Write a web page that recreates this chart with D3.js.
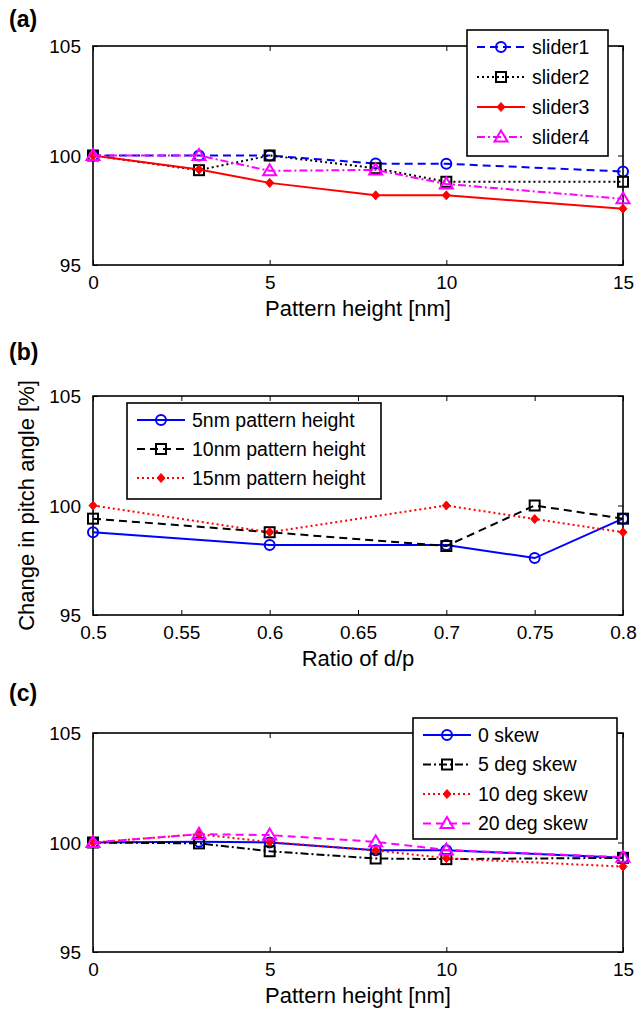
<!DOCTYPE html>
<html>
<head>
<meta charset="utf-8">
<script src="https://cdn.jsdelivr.net/npm/d3@7"></script>
<style>
  html, body { margin: 0; padding: 0; background: #fff; }
  svg { display: block; font-family: "Liberation Sans", Arial, Helvetica, sans-serif; }
</style>
</head>
<body>
<svg id="chart" width="644" height="1013"></svg>
<script>
// ---------- DATA ----------
// Panel (a)
const heightsA = [0, 3, 5, 8, 10, 15];
const slider1 = [100, 100, 100, 99.63, 99.62, 99.27];
const slider2 = [100, 99.33, 100, 99.42, 98.8, 98.8];
const slider3 = [100, 99.36, 98.75, 98.18, 98.18, 97.57];
const slider4 = [100, 100, 99.3, 99.34, 98.7, 98.02];
const namesA = ["slider1", "slider2", "slider3", "slider4"];

// Panel (b)
const ratiosB = [0.5, 0.6, 0.7, 0.75, 0.8];
const h5nm = [98.78, 98.2, 98.2, 97.6, 99.4];
const h10nm = [99.4, 98.78, 98.15, 100, 99.4];
const h15nm = [100, 98.78, 100, 99.38, 98.78];
const namesB = ["5nm pattern height", "10nm pattern height", "15nm pattern height"];

// Panel (c)
const heightsC = [0, 3, 5, 8, 10, 15];
const skew0 = [100, 100.03, 100, 99.65, 99.65, 99.3];
const skew5 = [100, 99.96, 99.6, 99.27, 99.24, 99.3];
const skew10 = [100, 100.38, 100.02, 99.64, 99.28, 98.9];
const skew20 = [100, 100.38, 100.34, 100.03, 99.66, 99.33];
const namesC = ["0 skew", "5 deg skew", "10 deg skew", "20 deg skew"];

// Ticks
const yTicks = [95, 100, 105];
const xTicksA = [0, 5, 10, 15];
const xTicksB = [0.5, 0.55, 0.6, 0.65, 0.7, 0.75, 0.8];
const xTicksC = [0, 5, 10, 15];
const xLabelA = "Pattern height [nm]";
const xLabelB = "Ratio of d/p";
const xLabelC = "Pattern height [nm]";
const yLabel = "Change in pitch angle [%]";

// ---------- STYLES ----------
const STY = {
  blueDash:   {color: "#0000ff", dash: "8,5", marker: "circle"},
  blueSolid:  {color: "#0000ff", dash: null, marker: "circle"},
  blackDot:   {color: "#000000", dash: "2,3", marker: "square"},
  blackDash:  {color: "#000000", dash: "8,5", marker: "square"},
  blackDashDot: {color: "#000000", dash: "8,3,2,3", marker: "square"},
  redSolid:   {color: "#ff0000", dash: null, marker: "diamond"},
  redDot:     {color: "#ff0000", dash: "2,3", marker: "diamond"},
  magDashDot: {color: "#ff00ff", dash: "8,3,2,3", marker: "triangle"},
  magDash:    {color: "#ff00ff", dash: "8,5", marker: "triangle"}
};

const panels = [
  {
    tag: "(a)", tagY: 27, top: 46, xs: heightsA, xDomain: [0, 15], xTicks: xTicksA, xLabel: xLabelA,
    series: [
      {name: namesA[0], y: slider1, s: STY.blueDash},
      {name: namesA[1], y: slider2, s: STY.blackDot},
      {name: namesA[2], y: slider3, s: STY.redSolid},
      {name: namesA[3], y: slider4, s: STY.magDashDot}
    ],
    legend: {x: 467, y: 30, w: 141, h: 126, rowY0: 47, rowDy: 30}
  },
  {
    tag: "(b)", tagY: 360, top: 396, xs: ratiosB, xDomain: [0.5, 0.8], xTicks: xTicksB, xLabel: xLabelB,
    series: [
      {name: namesB[0], y: h5nm, s: STY.blueSolid},
      {name: namesB[1], y: h10nm, s: STY.blackDash},
      {name: namesB[2], y: h15nm, s: STY.redDot}
    ],
    legend: {x: 127, y: 403, w: 254, h: 96, rowY0: 420, rowDy: 29},
    yLabel: yLabel
  },
  {
    tag: "(c)", tagY: 701, top: 733, xs: heightsC, xDomain: [0, 15], xTicks: xTicksC, xLabel: xLabelC,
    series: [
      {name: namesC[0], y: skew0, s: STY.blueSolid},
      {name: namesC[1], y: skew5, s: STY.blackDashDot},
      {name: namesC[2], y: skew10, s: STY.redDot},
      {name: namesC[3], y: skew20, s: STY.magDash}
    ],
    legend: {x: 413, y: 718, w: 204, h: 121, rowY0: 735, rowDy: 29.5}
  }
];

// ---------- DRAW ----------
const svg = d3.select("#chart");
const L = 93, R = 623, H = 219;
const FS_TICK = 19, FS_LABEL = 22, FS_LEG = 19.5, FS_TAG = 23;

function drawMarker(g, type, cx, cy, color) {
  if (type === "circle") {
    g.append("circle").attr("cx", cx).attr("cy", cy).attr("r", 5)
      .attr("fill", "none").attr("stroke", color).attr("stroke-width", 2);
  } else if (type === "square") {
    g.append("rect").attr("x", cx - 5).attr("y", cy - 5).attr("width", 10).attr("height", 10)
      .attr("fill", "none").attr("stroke", color).attr("stroke-width", 2);
  } else if (type === "diamond") {
    g.append("path").attr("d", `M${cx},${cy-4.5} L${cx+4},${cy} L${cx},${cy+4.5} L${cx-4},${cy} Z`)
      .attr("fill", color).attr("stroke", color).attr("stroke-width", 1);
  } else if (type === "triangle") {
    g.append("path").attr("d", `M${cx},${cy-6.5} L${cx+6.5},${cy+4.5} L${cx-6.5},${cy+4.5} Z`)
      .attr("fill", "none").attr("stroke", color).attr("stroke-width", 2).attr("stroke-linejoin", "miter");
  }
}

panels.forEach(p => {
  const g = svg.append("g");
  const x = d3.scaleLinear().domain(p.xDomain).range([L, R]);
  const y = d3.scaleLinear().domain([95, 105]).range([p.top + H, p.top]);
  const bottom = p.top + H;

  // panel tag
  g.append("text").attr("x", 9).attr("y", p.tagY)
    .attr("font-size", FS_TAG).attr("font-weight", "bold").text(p.tag);

  // axes with inward ticks (box style)
  const axB = d3.axisBottom(x).tickValues(p.xTicks).tickSizeInner(-5).tickSizeOuter(0).tickPadding(12)
    .tickFormat(d => d3.format("~g")(d));
  const axT = d3.axisTop(x).tickValues(p.xTicks).tickSizeInner(-5).tickSizeOuter(0).tickFormat("");
  const axL = d3.axisLeft(y).tickValues(yTicks).tickSizeInner(-5).tickSizeOuter(0).tickPadding(12);
  const axR = d3.axisRight(y).tickValues(yTicks).tickSizeInner(-5).tickSizeOuter(0).tickFormat("");

  const gb = g.append("g").attr("transform", `translate(0,${bottom})`).call(axB);
  const gt = g.append("g").attr("transform", `translate(0,${p.top})`).call(axT);
  const gl = g.append("g").attr("transform", `translate(${L},0)`).call(axL);
  const gr = g.append("g").attr("transform", `translate(${R},0)`).call(axR);
  [gb, gt, gl, gr].forEach(a => {
    a.select(".domain").remove();
    a.selectAll(".tick line").attr("stroke", "#000").attr("stroke-width", 1);
    a.selectAll("text").attr("font-size", FS_TICK).attr("fill", "#000").attr("font-family", null);
  });
  gb.selectAll("text").attr("dy", "0.65em");
  gl.selectAll("text").attr("dy", "0.35em");

  // box
  g.append("rect").attr("x", L).attr("y", p.top).attr("width", R - L).attr("height", H)
    .attr("fill", "none").attr("stroke", "#000").attr("stroke-width", 1.6);

  // x label
  g.append("text").attr("x", (L + R) / 2).attr("y", bottom + 51).attr("text-anchor", "middle")
    .attr("font-size", FS_LABEL).text(p.xLabel);

  if (p.yLabel) {
    g.append("text").attr("transform", `translate(34,${p.top + H / 2}) rotate(-90)`)
      .attr("text-anchor", "middle").attr("font-size", FS_LABEL).text(p.yLabel);
  }

  // series
  const line = d3.line().x(d => x(d[0])).y(d => y(d[1]));
  p.series.forEach(se => {
    const pts = p.xs.map((xv, i) => [xv, se.y[i]]);
    g.append("path").attr("d", line(pts)).attr("fill", "none")
      .attr("stroke", se.s.color).attr("stroke-width", 2)
      .attr("stroke-dasharray", se.s.dash);
    const mg = g.append("g");
    pts.forEach(d => drawMarker(mg, se.s.marker, x(d[0]), y(d[1]), se.s.color));
  });

  // legend
  const lg = p.legend;
  const leg = g.append("g");
  leg.append("rect").attr("x", lg.x).attr("y", lg.y).attr("width", lg.w).attr("height", lg.h)
    .attr("fill", "#fff").attr("stroke", "#000").attr("stroke-width", 1.6);
  p.series.forEach((se, i) => {
    const ry = lg.rowY0 + i * lg.rowDy;
    const x0 = lg.x + 10, x1 = lg.x + 58, xm = (x0 + x1) / 2;
    leg.append("line").attr("x1", x0).attr("x2", x1).attr("y1", ry).attr("y2", ry)
      .attr("stroke", se.s.color).attr("stroke-width", 2).attr("stroke-dasharray", se.s.dash);
    drawMarker(leg, se.s.marker, xm, ry, se.s.color);
    leg.append("text").attr("x", lg.x + 65).attr("y", ry).attr("dy", "0.35em")
      .attr("font-size", FS_LEG).text(se.name);
  });
});
</script>
</body>
</html>
